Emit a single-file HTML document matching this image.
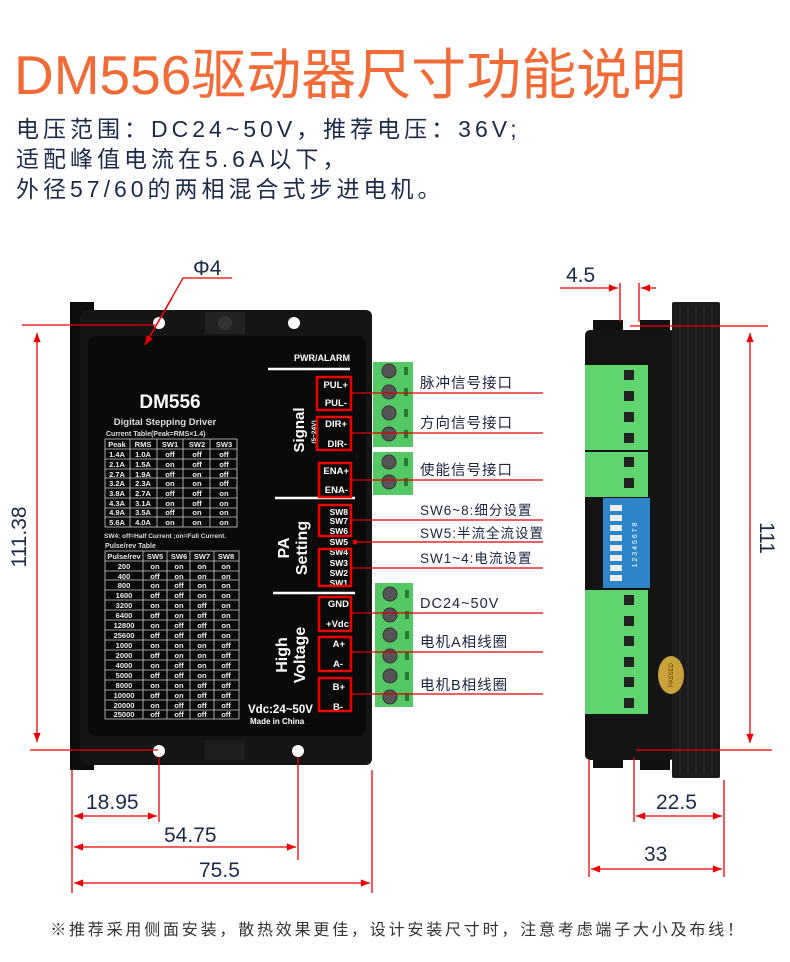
<!DOCTYPE html>
<html><head><meta charset="utf-8"><style>
html,body{margin:0;padding:0;background:#fff;}
svg{display:block;}
.cn{font-family:"Liberation Sans","Noto Sans CJK SC",sans-serif;}
.t1 text{font-family:"Liberation Sans",sans-serif;font-size:7.5px;font-weight:bold;fill:#eee;text-anchor:middle;}
.w{fill:#fff;font-family:"Liberation Sans",sans-serif;font-weight:bold;}
.lab{font-family:"Liberation Sans","Noto Sans CJK SC",sans-serif;font-size:14.5px;fill:#1c2340;letter-spacing:1px;}
.dim{font-family:"Liberation Sans",sans-serif;font-size:21px;fill:#1c2a4a;}
</style></head><body>
<svg width="790" height="962" viewBox="0 0 790 962" xmlns="http://www.w3.org/2000/svg">
<defs>
<marker id="ar" viewBox="0 0 10 10" refX="10" refY="5" markerWidth="9" markerHeight="7" orient="auto-start-reverse"><path d="M0,1 L10,5 L0,9 z" fill="#e00"/></marker>
</defs>
<rect width="790" height="962" fill="#fff"/>
<text x="14" y="94" class="cn" font-size="55" fill="#f26a35">DM556驱动器尺寸功能说明</text>
<g class="cn" font-size="23" fill="#1c2a4a" letter-spacing="4">
<text x="16" y="137">电压范围：DC24~50V，推荐电压：36V;</text>
<text x="16" y="167">适配峰值电流在5.6A以下，</text>
<text x="16" y="197">外径57/60的两相混合式步进电机。</text>
</g>

<!-- front driver -->
<rect x="70" y="302" width="24" height="468" fill="#0c0c0c"/>
<rect x="80" y="310" width="292" height="455" rx="6" fill="#151515"/>
<rect x="88" y="336" width="278" height="400" rx="8" fill="#0a0a0a"/>
<rect x="205" y="312" width="40" height="22" fill="#222"/>
<circle cx="225" cy="323" r="7" fill="#333"/>
<circle cx="159" cy="323" r="6" fill="#fff"/><circle cx="294" cy="323" r="6" fill="#fff"/>
<circle cx="159" cy="751" r="6" fill="#fff"/><circle cx="298" cy="751" r="6" fill="#fff"/>
<rect x="205" y="740" width="40" height="20" fill="#1e1e1e"/>

<text x="170" y="408" class="w" font-size="19" text-anchor="middle">DM556</text>
<text x="165" y="425" fill="#ddd" font-family="Liberation Sans,sans-serif" font-size="9.5" font-weight="bold" text-anchor="middle">Digital Stepping Driver</text>
<text x="106" y="436" fill="#ddd" font-family="Liberation Sans,sans-serif" font-size="7" font-weight="bold">Current Table(Peak=RMS×1.4)</text>
<g stroke="#ccc" stroke-width="0.8" fill="none">
<rect x="105" y="439" width="132" height="88"/>
<path d="M130 439V527M157 439V527M183 439V527M210 439V527M105 449H237M105 459H237M105 469H237M105 478H237M105 488H237M105 498H237M105 508H237M105 517H237"/>
<rect x="105" y="551" width="134" height="168"/>
<path d="M143 551V719M167 551V719M190 551V719M214 551V719M105 561H239M105 571H239M105 580H239M105 590H239M105 600H239M105 610H239M105 620H239M105 630H239M105 640H239M105 650H239M105 660H239M105 670H239M105 680H239M105 690H239M105 700H239M105 710H239"/>
</g>
<g class="t1">
<text x="117" y="447">Peak</text><text x="143" y="447">RMS</text><text x="170" y="447">SW1</text><text x="197" y="447">SW2</text><text x="224" y="447">SW3</text>
<text x="117" y="457">1.4A</text><text x="143" y="457">1.0A</text><text x="170" y="457">off</text><text x="197" y="457">off</text><text x="224" y="457">off</text>
<text x="117" y="467">2.1A</text><text x="143" y="467">1.5A</text><text x="170" y="467">on</text><text x="197" y="467">off</text><text x="224" y="467">off</text>
<text x="117" y="477">2.7A</text><text x="143" y="477">1.9A</text><text x="170" y="477">off</text><text x="197" y="477">on</text><text x="224" y="477">off</text>
<text x="117" y="486">3.2A</text><text x="143" y="486">2.3A</text><text x="170" y="486">on</text><text x="197" y="486">on</text><text x="224" y="486">off</text>
<text x="117" y="496">3.8A</text><text x="143" y="496">2.7A</text><text x="170" y="496">off</text><text x="197" y="496">off</text><text x="224" y="496">on</text>
<text x="117" y="506">4.3A</text><text x="143" y="506">3.1A</text><text x="170" y="506">on</text><text x="197" y="506">off</text><text x="224" y="506">on</text>
<text x="117" y="515">4.9A</text><text x="143" y="515">3.5A</text><text x="170" y="515">off</text><text x="197" y="515">on</text><text x="224" y="515">on</text>
<text x="117" y="525">5.6A</text><text x="143" y="525">4.0A</text><text x="170" y="525">on</text><text x="197" y="525">on</text><text x="224" y="525">on</text>
</g>
<text x="104" y="538" fill="#ddd" font-family="Liberation Sans,sans-serif" font-size="6.5" font-weight="bold">SW4: off=Half Current ;on=Full Current.</text>
<text x="105" y="548" fill="#ddd" font-family="Liberation Sans,sans-serif" font-size="7" font-weight="bold">Pulse/rev  Table</text>
<g class="t1">
<text x="124" y="559">Pulse/rev</text><text x="155" y="559">SW5</text><text x="179" y="559">SW6</text><text x="202" y="559">SW7</text><text x="226" y="559">SW8</text>
<text x="124" y="569">200</text><text x="155" y="569">on</text><text x="179" y="569">on</text><text x="202" y="569">on</text><text x="226" y="569">on</text>
<text x="124" y="579">400</text><text x="155" y="579">off</text><text x="179" y="579">on</text><text x="202" y="579">on</text><text x="226" y="579">on</text>
<text x="124" y="588">800</text><text x="155" y="588">on</text><text x="179" y="588">off</text><text x="202" y="588">on</text><text x="226" y="588">on</text>
<text x="124" y="598">1600</text><text x="155" y="598">off</text><text x="179" y="598">off</text><text x="202" y="598">on</text><text x="226" y="598">on</text>
<text x="124" y="608">3200</text><text x="155" y="608">on</text><text x="179" y="608">on</text><text x="202" y="608">off</text><text x="226" y="608">on</text>
<text x="124" y="618">6400</text><text x="155" y="618">off</text><text x="179" y="618">on</text><text x="202" y="618">off</text><text x="226" y="618">on</text>
<text x="124" y="628">12800</text><text x="155" y="628">on</text><text x="179" y="628">off</text><text x="202" y="628">off</text><text x="226" y="628">on</text>
<text x="124" y="638">25600</text><text x="155" y="638">off</text><text x="179" y="638">off</text><text x="202" y="638">off</text><text x="226" y="638">on</text>
<text x="124" y="648">1000</text><text x="155" y="648">on</text><text x="179" y="648">on</text><text x="202" y="648">on</text><text x="226" y="648">off</text>
<text x="124" y="658">2000</text><text x="155" y="658">off</text><text x="179" y="658">on</text><text x="202" y="658">on</text><text x="226" y="658">off</text>
<text x="124" y="668">4000</text><text x="155" y="668">on</text><text x="179" y="668">off</text><text x="202" y="668">on</text><text x="226" y="668">off</text>
<text x="124" y="678">5000</text><text x="155" y="678">off</text><text x="179" y="678">off</text><text x="202" y="678">on</text><text x="226" y="678">off</text>
<text x="124" y="688">8000</text><text x="155" y="688">on</text><text x="179" y="688">on</text><text x="202" y="688">off</text><text x="226" y="688">off</text>
<text x="124" y="698">10000</text><text x="155" y="698">off</text><text x="179" y="698">on</text><text x="202" y="698">off</text><text x="226" y="698">off</text>
<text x="124" y="708">20000</text><text x="155" y="708">on</text><text x="179" y="708">off</text><text x="202" y="708">off</text><text x="226" y="708">off</text>
<text x="124" y="717">25000</text><text x="155" y="717">off</text><text x="179" y="717">off</text><text x="202" y="717">off</text><text x="226" y="717">off</text>
</g>
<text x="248" y="713" class="w" font-size="11.5" font-weight="normal">Vdc:24~50V</text>
<text x="250" y="724" class="w" font-size="8">Made in China</text>

<text x="350" y="361" class="w" font-size="9" text-anchor="end">PWR/ALARM</text>
<g stroke="#fff" stroke-width="2.5"><path d="M268 369H350M275 498H355M273 593H355"/></g>
<text transform="translate(304,430) rotate(-90)" class="w" font-size="15" text-anchor="middle">Signal</text>
<text transform="translate(316,432) rotate(-90)" class="w" font-size="6.5" text-anchor="middle">(5~24V)</text>
<text transform="translate(289,548) rotate(-90)" class="w" font-size="16" text-anchor="middle">PA</text>
<text transform="translate(307,548) rotate(-90)" class="w" font-size="16" text-anchor="middle">Setting</text>
<text transform="translate(287,655) rotate(-90)" class="w" font-size="16" text-anchor="middle">High</text>
<text transform="translate(305,655) rotate(-90)" class="w" font-size="16" text-anchor="middle">Voltage</text>
<g class="w" font-size="9.5" text-anchor="end">
<text x="348" y="388">PUL+</text><text x="347" y="406">PUL-</text>
<text x="347" y="427">DIR+</text><text x="347" y="447">DIR-</text>
<text x="349" y="474">ENA+</text><text x="348" y="493">ENA-</text>
<text x="348" y="515" font-size="8.5">SW8</text><text x="348" y="524" font-size="8.5">SW7</text><text x="348" y="534" font-size="8.5">SW6</text>
<text x="348" y="545" font-size="8.5">SW5</text>
<text x="348" y="555" font-size="8.5">SW4</text><text x="348" y="566" font-size="8.5">SW3</text><text x="348" y="576" font-size="8.5">SW2</text><text x="348" y="586" font-size="8.5">SW1</text>
<text x="349" y="607">GND</text><text x="349" y="627">+Vdc</text>
<text x="345" y="647">A+</text><text x="343" y="667">A-</text>
<text x="345" y="690">B+</text><text x="343" y="710">B-</text>
</g>
<g fill="none" stroke="#e00" stroke-width="2.5">
<rect x="317" y="377" width="34" height="33"/><rect x="317" y="417" width="34" height="33"/>
<rect x="319" y="463" width="32" height="34"/><rect x="319" y="505" width="32" height="31"/>
<rect x="319" y="549" width="32" height="37"/><rect x="319" y="597" width="32" height="34"/>
<rect x="319" y="637" width="32" height="34"/><rect x="319" y="678" width="32" height="33"/>
</g>
<!-- terminals front -->
<g>
<rect x="373" y="362" width="40" height="85" fill="#55c866"/>
<rect x="373" y="452" width="40" height="43" fill="#55c866"/>
<rect x="375" y="583" width="38" height="124" fill="#55c866"/>
<g fill="#555" stroke="#333">
<circle cx="389" cy="371" r="7"/><circle cx="389" cy="392" r="7"/><circle cx="389" cy="413" r="7"/><circle cx="389" cy="434" r="7"/>
<circle cx="389" cy="462" r="7"/><circle cx="389" cy="482" r="7"/>
<circle cx="390" cy="594" r="7"/><circle cx="390" cy="615" r="7"/><circle cx="390" cy="635" r="7"/><circle cx="390" cy="656" r="7"/><circle cx="390" cy="676" r="7"/><circle cx="390" cy="697" r="7"/>
</g>
<g fill="#2a7a36">
<rect x="404" y="367" width="4" height="8"/><rect x="404" y="388" width="4" height="8"/><rect x="404" y="409" width="4" height="8"/><rect x="404" y="430" width="4" height="8"/>
<rect x="404" y="458" width="4" height="8"/><rect x="404" y="478" width="4" height="8"/>
<rect x="405" y="590" width="4" height="8"/><rect x="405" y="611" width="4" height="8"/><rect x="405" y="631" width="4" height="8"/><rect x="405" y="652" width="4" height="8"/><rect x="405" y="672" width="4" height="8"/><rect x="405" y="693" width="4" height="8"/>
</g>
</g>
<!-- leader lines -->
<g stroke="#d00" stroke-width="1.3">
<path d="M351 393H543M351 433H543M351 480H543M351 520H543M355 542H543M351 568H543M351 613H543M351 652H543M351 694H543"/>
</g>
<circle cx="355" cy="542" r="2.5" fill="#e00"/>
<g class="lab">
<text x="420" y="388">脉冲信号接口</text><text x="420" y="428">方向信号接口</text><text x="420" y="475">使能信号接口</text>
<text x="420" y="515" font-size="13.5">SW6~8:细分设置</text><text x="420" y="538" font-size="13.5">SW5:半流全流设置</text><text x="420" y="563" font-size="13.5">SW1~4:电流设置</text>
<text x="420" y="608">DC24~50V</text><text x="420" y="647">电机A相线圈</text><text x="420" y="690">电机B相线圈</text>
</g>

<!-- dims front -->
<g stroke="#e00" stroke-width="1.3" fill="none">
<path d="M22 325H155M30 750H158"/>
<path d="M37 742V333" marker-end="url(#ar)" marker-start="url(#ar)"/>
<path d="M72 770V893M159 757V822M298 757V860M372 770V893"/>
<path d="M74 816H157" marker-start="url(#ar)" marker-end="url(#ar)"/>
<path d="M74 847H296" marker-start="url(#ar)" marker-end="url(#ar)"/>
<path d="M74 883H370" marker-start="url(#ar)" marker-end="url(#ar)"/>
<path d="M232 278H183L145 345" />
<path d="M172 298L145 345" marker-end="url(#ar)"/>
</g>
<text x="193" y="275" class="dim" font-size="19">Φ4</text>
<text transform="translate(26,537) rotate(-90)" class="dim" text-anchor="middle">111.38</text>
<text x="86" y="809" class="dim">18.95</text>
<text x="164" y="842" class="dim">54.75</text>
<text x="199" y="877" class="dim">75.5</text>

<!-- side view -->
<rect x="593" y="320" width="30" height="12" fill="#111"/><rect x="640" y="320" width="30" height="12" fill="#111"/>
<rect x="593" y="756" width="30" height="12" fill="#111"/><rect x="640" y="756" width="30" height="14" fill="#111"/>
<rect x="585" y="330" width="90" height="430" rx="5" fill="#141414"/>
<rect x="672" y="302" width="48" height="476" rx="2" fill="#1c1c1c"/>
<g stroke="#2c2c2c" stroke-width="1"><path d="M680 305V775M688 305V775M696 305V775M704 305V775M712 305V775"/></g>
<rect x="585" y="365" width="63" height="85" fill="#5fd36e"/>
<rect x="585" y="452" width="63" height="45" fill="#5fd36e"/>
<rect x="603" y="498" width="47" height="90" fill="#2e86c9"/>
<rect x="585" y="590" width="63" height="124" fill="#5fd36e"/>
<g fill="#222">
<rect x="624" y="370" width="10" height="10"/><rect x="624" y="391" width="10" height="10"/><rect x="624" y="412" width="10" height="10"/><rect x="624" y="433" width="10" height="10"/>
<rect x="624" y="457" width="10" height="10"/><rect x="624" y="478" width="10" height="10"/>
<rect x="624" y="595" width="10" height="10"/><rect x="624" y="616" width="10" height="10"/><rect x="624" y="636" width="10" height="10"/><rect x="624" y="657" width="10" height="10"/><rect x="624" y="677" width="10" height="10"/><rect x="624" y="698" width="10" height="10"/>
</g>
<g fill="#eee"><rect x="610" y="505" width="12" height="6"/><rect x="610" y="515" width="12" height="6"/><rect x="610" y="525" width="12" height="6"/><rect x="610" y="535" width="12" height="6"/><rect x="610" y="545" width="12" height="6"/><rect x="610" y="555" width="12" height="6"/><rect x="610" y="565" width="12" height="6"/><rect x="610" y="575" width="12" height="6"/></g>
<text transform="translate(637,545) rotate(-90)" fill="#fff" font-family="Liberation Sans,sans-serif" font-size="7" text-anchor="middle">1 2 3 4 5 6 7 8</text>
<ellipse cx="671" cy="675" rx="13" ry="19" fill="#c9a23a"/>
<text transform="translate(673,675) rotate(-90)" fill="#5a3d00" font-family="Liberation Sans,sans-serif" font-size="6" text-anchor="middle">PASSED</text>
<g stroke="#e00" stroke-width="1.3" fill="none">
<path d="M630 326H768M636 750H772"/>
<path d="M750 333V743" marker-start="url(#ar)" marker-end="url(#ar)"/>
<path d="M620 283V322M639 283V322"/>
<path d="M560 288H618" marker-end="url(#ar)"/><path d="M656 288H641" marker-end="url(#ar)"/>
<path d="M589 760V877M634 757V822M724 780V877"/>
<path d="M636 816H722" marker-start="url(#ar)" marker-end="url(#ar)"/>
<path d="M591 869H722" marker-start="url(#ar)" marker-end="url(#ar)"/>
</g>
<text x="566" y="282" class="dim" font-size="19">4.5</text>
<text transform="translate(760,538) rotate(90)" class="dim" text-anchor="middle">111</text>
<text x="656" y="809" class="dim">22.5</text>
<text x="644" y="861" class="dim">33</text>

<text x="398" y="935" class="cn" font-size="16" fill="#333" text-anchor="middle" letter-spacing="2.8">※推荐采用侧面安装，散热效果更佳，设计安装尺寸时，注意考虑端子大小及布线！</text>
</svg>
</body></html>
